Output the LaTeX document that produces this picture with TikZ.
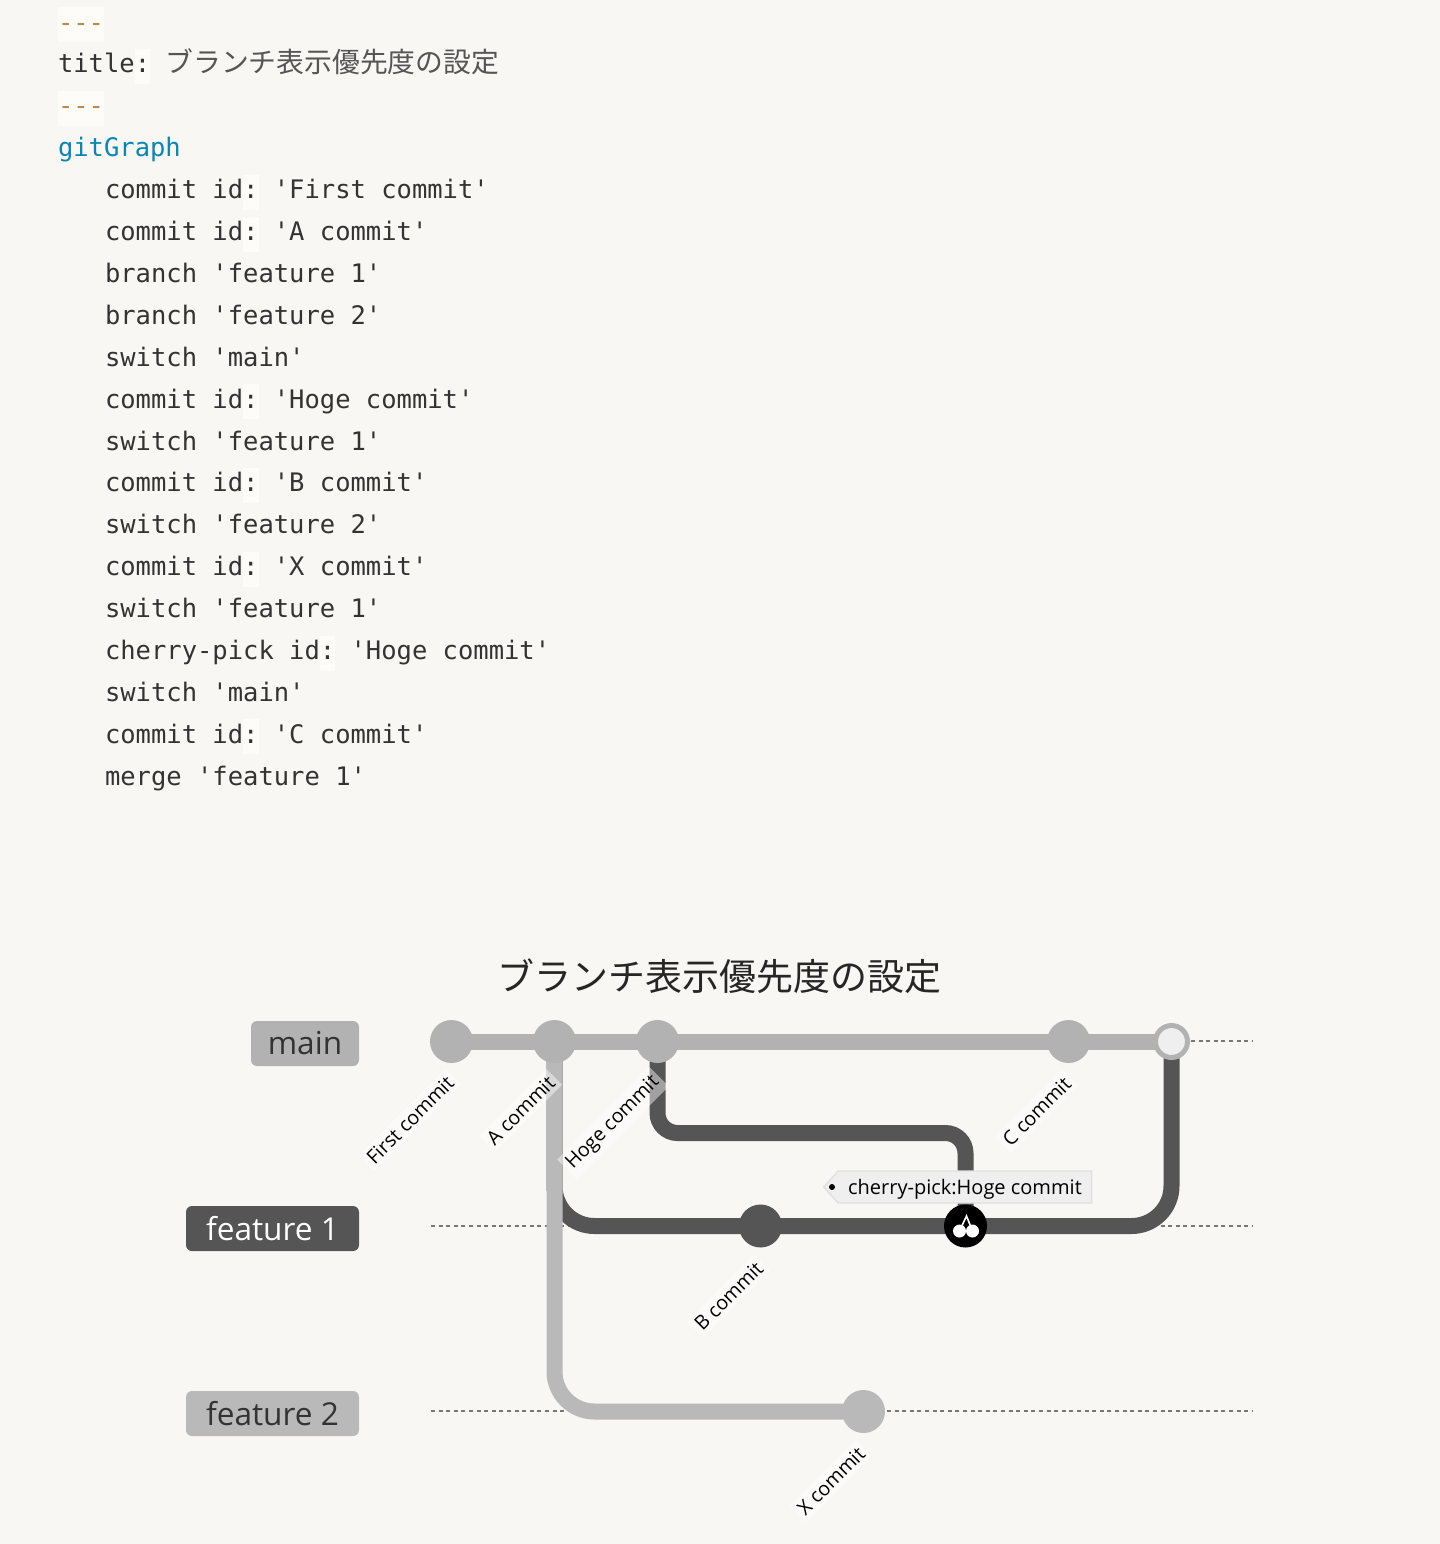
\documentclass[tikz,border=0pt]{standalone}
\usepackage{fontspec}
\usepackage{xcolor}
\usetikzlibrary{positioning, calc, backgrounds, shapes.symbols}
\setmainfont{Open Sans}
\setmonofont{DejaVu Sans Mono}
\newfontfamily\jpfont{Noto Sans CJK JP}
\definecolor{PageBg}{HTML}{F8F7F4}
\definecolor{MarkBg}{HTML}{FDFCF9}
\definecolor{CodeInk}{HTML}{333333}
\definecolor{DashInk}{HTML}{B98A4E}
\definecolor{KeyInk}{HTML}{0A86B5}
\definecolor{TitleInk}{HTML}{555555}
\definecolor{MainGray}{HTML}{B2B2B2}
\definecolor{FeatDark}{HTML}{555555}
\definecolor{FeatGray}{HTML}{B9B9B9}
\definecolor{GuideInk}{HTML}{777777}
\definecolor{TagFill}{HTML}{EFEFEF}
\definecolor{TagEdge}{HTML}{E0E0E0}
\newcommand{\hlbox}[1]{{\setlength{\fboxsep}{0pt}\colorbox{MarkBg}{\rule[-5.5pt]{0pt}{17.5pt}#1}}}
\newcommand{\idkey}{id\hlbox{:}}

\begin{document}
\begin{tikzpicture}[
    x=0.5pt, y=-0.5pt,
    codeline/.style={inner sep=0pt, outer sep=0pt, minimum height=20.95pt, text height=11pt, text depth=3pt, font=\ttfamily\fontsize{12.75pt}{14pt}\selectfont, text=CodeInk},
    cmt/.style={circle, inner sep=0pt, outer sep=0pt, minimum size=21.5pt},
    branchtag/.style={rounded corners=3pt, minimum height=22.5pt, inner sep=0pt, outer sep=0pt, yshift=-1.25pt, font=\fontsize{15.8pt}{18pt}\selectfont, text=black!80},
    cmtlabel/.style={anchor=east, rotate=45, inner sep=2pt, fill=white, fill opacity=0.45, text opacity=1, font=\fontsize{9.8pt}{12pt}\selectfont, text=black},
    guide/.style={draw=GuideInk, line width=0.6pt, dash pattern=on 2pt off 1.8pt},
    branchline/.style={line width=8pt, rounded corners=20pt}
]
\useasboundingbox (0,0) rectangle (1440,1544);

% Source listing
\node[codeline, anchor=west] (c1) at (58,23) {\textcolor{DashInk}{\hlbox{---}}};
\node[codeline, below right=0pt and 0pt of c1.south west] (c2) {title\hlbox{:} {\jpfont\fontsize{13.9pt}{14pt}\selectfont\textcolor{TitleInk}{ブランチ表示優先度の設定}}};
\node[codeline, below right=0pt and 0pt of c2.south west] (c3) {\textcolor{DashInk}{\hlbox{---}}};
\node[codeline, below right=0pt and 0pt of c3.south west, text=KeyInk] (c4) {gitGraph};
\node[codeline, below right=0pt and 23.5pt of c4.south west] (c5) {commit \idkey{} 'First commit'};
\node[codeline, below right=0pt and 0pt of c5.south west] (c6) {commit \idkey{} 'A commit'};
\node[codeline, below right=0pt and 0pt of c6.south west] (c7) {branch 'feature 1'};
\node[codeline, below right=0pt and 0pt of c7.south west] (c8) {branch 'feature 2'};
\node[codeline, below right=0pt and 0pt of c8.south west] (c9) {switch 'main'};
\node[codeline, below right=0pt and 0pt of c9.south west] (c10) {commit \idkey{} 'Hoge commit'};
\node[codeline, below right=0pt and 0pt of c10.south west] (c11) {switch 'feature 1'};
\node[codeline, below right=0pt and 0pt of c11.south west] (c12) {commit \idkey{} 'B commit'};
\node[codeline, below right=0pt and 0pt of c12.south west] (c13) {switch 'feature 2'};
\node[codeline, below right=0pt and 0pt of c13.south west] (c14) {commit \idkey{} 'X commit'};
\node[codeline, below right=0pt and 0pt of c14.south west] (c15) {switch 'feature 1'};
\node[codeline, below right=0pt and 0pt of c15.south west] (c16) {cherry-pick \idkey{} 'Hoge commit'};
\node[codeline, below right=0pt and 0pt of c16.south west] (c17) {switch 'main'};
\node[codeline, below right=0pt and 0pt of c17.south west] (c18) {commit \idkey{} 'C commit'};
\node[codeline, below right=0pt and 0pt of c18.south west] (c19) {merge 'feature 1'};

% Graph title
\node[font=\jpfont\fontsize{18.5pt}{20pt}\selectfont, text=black!85, inner sep=0pt] (gtitle) at (719,976) {ブランチ表示優先度の設定};

% Guide ends
\coordinate (mainstart) at (431,1041);
\coordinate (mainend) at (1252,1041);
\coordinate (featAstart) at (431,1226);
\coordinate (featAend) at (1252,1226);
\coordinate (featBstart) at (431,1411);
\coordinate (featBend) at (1252,1411);
\coordinate (hogeturn) at (800,1133);

% Branch names
\node[branchtag, fill=MainGray, minimum width=54pt, left=36pt of mainstart] (tagmain) {main};
\node[branchtag, fill=FeatDark, minimum width=86.5pt, left=36pt of featAstart, text=white] (tagfeatA) {feature 1};
\node[branchtag, fill=FeatGray, minimum width=86.5pt, left=36pt of featBstart] (tagfeatB) {feature 2};

% Commits
\node[cmt, fill=MainGray] (first) at (451.5,1041.5) {};
\node[cmt, fill=MainGray] (acommit) at (554.5,1041.5) {};
\node[cmt, fill=MainGray] (hoge) at (657.5,1041.5) {};
\node[cmt, fill=MainGray] (ccommit) at (1068.5,1041.5) {};
\node[cmt, fill=TagFill, draw=MainGray, line width=2.5pt, minimum size=16pt] (merge) at (1171.5,1041.5) {};
\node[cmt, fill=FeatDark] (bcommit) at (760.5,1226) {};
\node[cmt, fill=black] (pick) at (965.5,1226) {};
\node[cmt, fill=FeatGray] (xcommit) at (863.5,1411.5) {};

% Cherry mark
\draw[white, line width=0.8pt] ($(pick)+(-6,5)$) -- ($(pick)+(1,-10)$) -- ($(pick)+(7,5)$);
\fill[white] ($(pick)+(-6,5)$) circle (6.5);
\fill[white] ($(pick)+(7,5)$) circle (6.5);

% Lines
\begin{pgfonlayer}{background}
\fill[PageBg] (0,0) rectangle (1440,1544);
\draw[guide] (mainstart) -- (mainend);
\draw[guide] (featAstart) -- (featAend);
\draw[guide] (featBstart) -- (featBend);
\draw[branchline, FeatDark] (acommit.center) |- (bcommit.center) -- (pick.center) -| (merge.center);
\draw[branchline, FeatDark, rounded corners=10pt] (hoge.center) |- (hogeturn) -| (pick.center);
\draw[branchline, MainGray] (first.center) -- (merge.center);
\draw[branchline, FeatGray] (acommit.center) |- (xcommit.center);
\end{pgfonlayer}

% Commit names
\node[cmtlabel] (lfirst) at ($(first)+(2,35)$) {First commit};
\node[cmtlabel] (lacommit) at ($(acommit)+(0,35)$) {A commit};
\node[cmtlabel] (lhoge) at ($(hoge)+(2,35)$) {Hoge commit};
\node[cmtlabel] (lccommit) at ($(ccommit)+(2,36)$) {C commit};
\node[cmtlabel] (lbcommit) at ($(bcommit)+(2,36)$) {B commit};
\node[cmtlabel] (lxcommit) at ($(xcommit)+(1,36)$) {X commit};

% Cherry tag
\node[signal, signal to=west, signal pointer angle=95, fill=TagFill, draw=TagEdge, line width=0.7pt, minimum width=134pt, minimum height=16pt, inner sep=0pt, text height=9pt, text depth=1.8pt, font=\fontsize{10pt}{12pt}\selectfont, text=black] (picktag) at (965,1187) {cherry-pick:Hoge commit};
\node[circle, fill=black, inner sep=0pt, minimum size=3pt] (pickdot) at (832,1187) {};

\end{tikzpicture}
\end{document}
